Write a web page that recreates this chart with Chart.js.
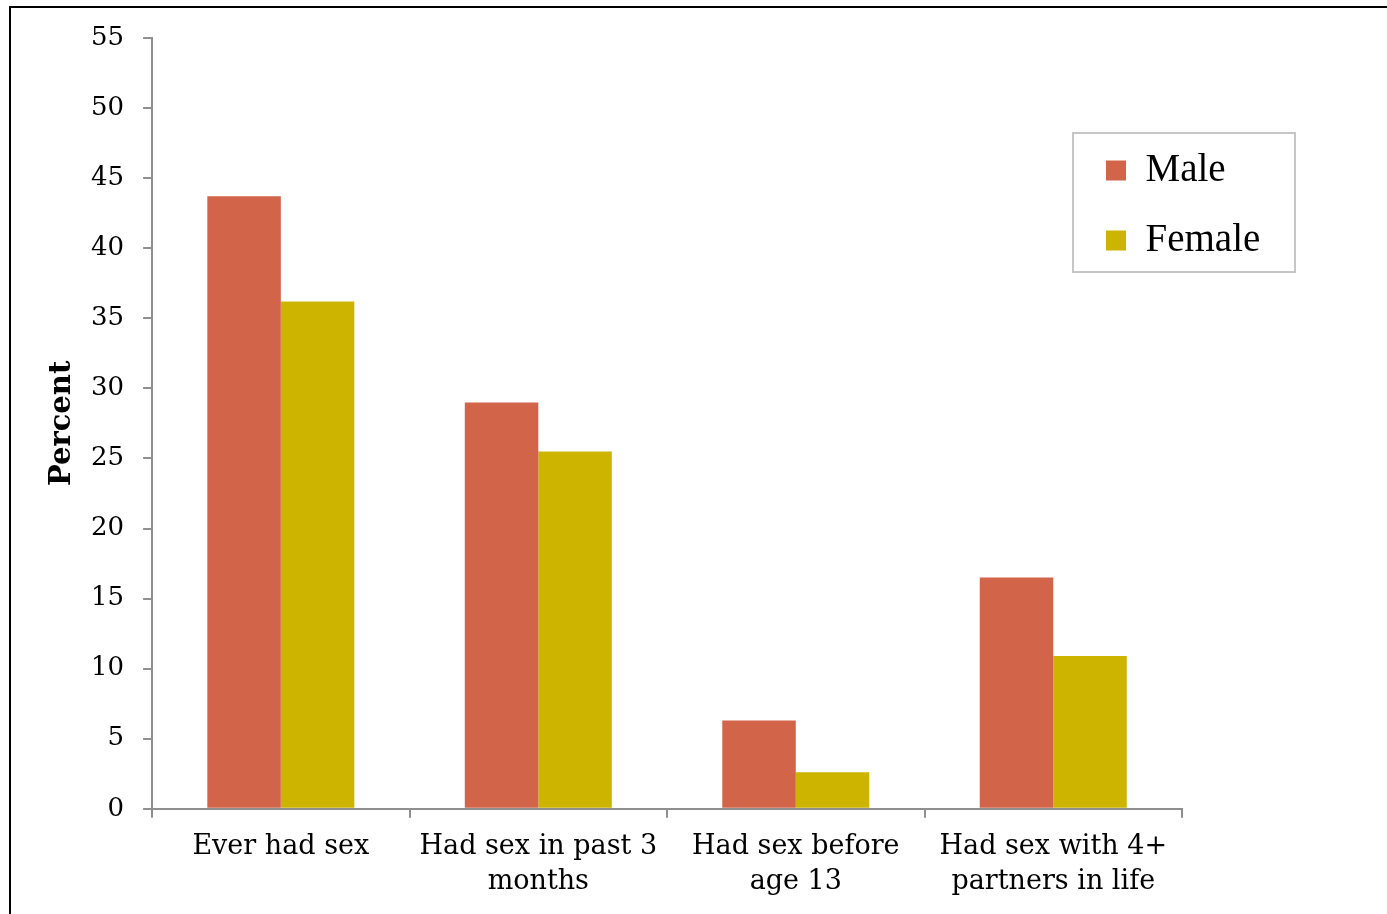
<!DOCTYPE html>
<html>
<head>
<meta charset="utf-8">
<script src="https://cdn.jsdelivr.net/npm/chart.js@4.4.1/dist/chart.umd.min.js"></script>
<style>
html,body{margin:0;padding:0;background:#fff;overflow:hidden;width:1387px;height:914px;}
#frame{position:absolute;left:9px;top:6px;width:1420px;height:1000px;border:2px solid #000;box-sizing:border-box;}
#c{position:absolute;left:0;top:0;}
</style>
</head>
<body>
<div id="frame"></div>
<canvas id="c" width="1387" height="914"></canvas>
<script>
// ---- data ----
const categories = [
  'Ever had sex',
  ['Had sex in past 3', 'months'],
  ['Had sex before', 'age 13'],
  ['Had sex with 4+', 'partners in life']
];
const seriesNames = ['Male', 'Female'];
const maleValues = [43.7, 29.0, 6.3, 16.5];
const femaleValues = [36.2, 25.5, 2.6, 10.9];
const yMin = 0;
const yMax = 55;
const yStep = 5;
const yTitle = 'Percent';

// ---- styling ----
const maleColor = '#D26449';
const femaleColor = '#CDB400';
const axisColor = '#8f8f8f';
const LEGEND_FRAME = {x: 1073, y: 133, w: 222, h: 139};

const legendPlacer = {
  id: 'legendPlacer',
  afterUpdate(chart) {
    const lg = chart.legend;
    if (!lg) return;
    lg.fit();
    const f = LEGEND_FRAME;
    lg.left = f.x + 2;
    lg.top = f.y - 13;
    lg.right = f.x + f.w;
    lg.bottom = lg.top + 400;
    lg.adjustHitBoxes();
  },
  afterDraw(chart) {
    const ctx = chart.ctx;
    const f = LEGEND_FRAME;
    ctx.save();
    ctx.strokeStyle = '#c6c6c6';
    ctx.lineWidth = 2;
    ctx.strokeRect(f.x, f.y, f.w, f.h);
    ctx.restore();
  }
};

new Chart(document.getElementById('c'), {
  type: 'bar',
  data: {
    labels: categories,
    datasets: [
      {label: seriesNames[0], data: maleValues, backgroundColor: maleColor, borderWidth: 0},
      {label: seriesNames[1], data: femaleValues, backgroundColor: femaleColor, borderWidth: 0}
    ]
  },
  options: {
    responsive: false,
    animation: false,
    devicePixelRatio: 1,
    layout: {padding: {left: 0, top: 38, right: 205, bottom: 2}},
    datasets: {bar: {categoryPercentage: 0.571, barPercentage: 1.0}},
    plugins: {
      tooltip: {enabled: false},
      title: {display: false},
      legend: {
        position: 'chartArea',
        align: 'start',
        labels: {
          boxWidth: 20,
          boxHeight: 20,
          padding: 31,
          color: '#000',
          font: {family: 'Liberation Serif', size: 39}
        }
      }
    },
    scales: {
      x: {
        grid: {display: true, offset: true, drawOnChartArea: false, drawTicks: true, tickLength: 9, color: axisColor, lineWidth: 2},
        border: {display: true, color: axisColor, width: 2},
        ticks: {color: '#000', padding: 12, maxRotation: 0, autoSkip: false, font: {family: 'DejaVu Serif', size: 27, lineHeight: 1.3}}
      },
      y: {
        min: yMin,
        max: yMax,
        grid: {display: true, drawOnChartArea: false, drawTicks: true, tickLength: 9, color: axisColor, lineWidth: 2},
        border: {display: true, color: axisColor, width: 2},
        ticks: {stepSize: yStep, color: '#000', padding: 19, font: {family: 'DejaVu Serif', size: 26}},
        title: {display: true, text: yTitle, color: '#000', padding: {top: 52, bottom: 0}, font: {family: 'DejaVu Serif', size: 29, weight: 'bold', lineHeight: 0.69}}
      }
    }
  },
  plugins: [legendPlacer]
});
</script>
</body>
</html>
